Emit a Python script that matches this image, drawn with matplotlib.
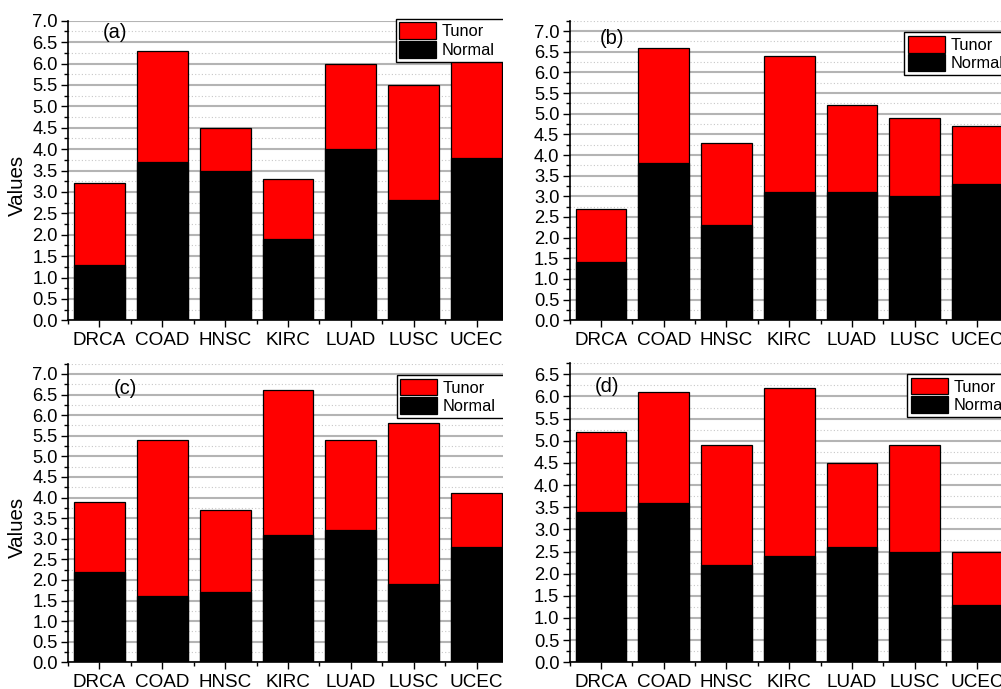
import matplotlib.pyplot as plt
from matplotlib.patches import Patch, Rectangle
import numpy as np

plt.rcParams['font.family'] = ['Liberation Sans', 'DejaVu Sans']

categories = ["DRCA", "COAD", "HNSC", "KIRC", "LUAD", "LUSC", "UCEC"]

# bar tops (red, "Tunor") and the black "Normal" part for each panel
tunor_a = [3.2, 6.3, 4.5, 3.3, 6.0, 5.5, 6.1]
normal_a = [1.3, 3.7, 3.5, 1.9, 4.0, 2.8, 3.8]
tunor_b = [2.7, 6.6, 4.3, 6.4, 5.2, 4.9, 4.7]
normal_b = [1.4, 3.8, 2.3, 3.1, 3.1, 3.0, 3.3]
tunor_c = [3.9, 5.4, 3.7, 6.6, 5.4, 5.8, 4.1]
normal_c = [2.2, 1.6, 1.7, 3.1, 3.2, 1.9, 2.8]
tunor_d = [5.2, 6.1, 4.9, 6.2, 4.5, 4.9, 2.5]
normal_d = [3.4, 3.6, 2.2, 2.4, 2.6, 2.5, 1.3]

W, H = 1001, 689
fig = plt.figure(figsize=(W / 100, H / 100), dpi=100)


def px_axes(left, top, right, bottom):
    return [left / W, 1 - bottom / H, (right - left) / W, (bottom - top) / H]


def draw_panel(rect, tunor, normal, ytop, label, label_xy, leg_xy, z):
    ax = fig.add_axes(px_axes(*rect), zorder=z)
    x = np.arange(len(categories))
    ax.bar(x, tunor, width=0.81, color="#ff0000", edgecolor="black", linewidth=0.9, zorder=3)
    ax.bar(x, normal, width=0.81, color="black", edgecolor="black", linewidth=0.9, zorder=3)
    ax.set_xlim(-0.5, 6.5)
    ax.set_ylim(0, ytop)
    ax.set_xticks(x)
    ax.set_xticklabels(categories, fontsize=13.6)
    ax.set_xticks(np.arange(-0.5, 7, 1), minor=True)
    ax.set_yticks(np.arange(0, ytop + 0.01, 0.5))
    ax.set_yticklabels([f"{v:.1f}" for v in np.arange(0, ytop + 0.01, 0.5)], fontsize=13.2)
    ax.set_yticks(np.arange(0, ytop + 0.01, 0.25), minor=True)
    ax.tick_params(axis="both", which="major", direction="out", length=5, width=1, pad=2.5)
    ax.tick_params(axis="both", which="minor", direction="out", length=3, width=1)
    ax.tick_params(axis="x", pad=3.2)
    ax.grid(axis="y", which="major", color="#b4b4b4", linewidth=1.5, zorder=0)
    ax.grid(axis="y", which="minor", color="#c8c8c8", linewidth=0.8, linestyle=(0, (1, 2)), zorder=0)
    ax.set_axisbelow(True)
    for s in ["top", "right"]:
        ax.spines[s].set_visible(False)
    for s in ["left", "bottom"]:
        ax.spines[s].set_linewidth(1.2)
    fig.text(label_xy[0] / W, 1 - label_xy[1] / H, label, fontsize=14.5, ha="center", va="center")
    handles = [Patch(facecolor="#ff0000", edgecolor="black", linewidth=0.9),
               Patch(facecolor="black", edgecolor="black", linewidth=0.9)]
    leg = ax.legend(handles, ["Tunor", "Normal"], loc="upper left", mode="expand",
                    bbox_to_anchor=(leg_xy[0] / W, 1 - leg_xy[1] / H, 115 / W, 0.0),
                    bbox_transform=fig.transFigure, fontsize=11.8, frameon=True,
                    fancybox=False, framealpha=1, edgecolor="black",
                    handlelength=2.25, handleheight=1.2, labelspacing=0.1,
                    handletextpad=0.35, borderpad=0.22, borderaxespad=0)
    leg.get_frame().set_linewidth(1.0)
    return ax


ax_a = draw_panel((68, 20.7, 508, 320.3), tunor_a, normal_a, 7.0, "(a)", (115, 33), (395.5, 18.8), 0)
ax_c = draw_panel((68, 363.6, 508, 662.3), tunor_c, normal_c, 7.25, "(c)", (125, 388), (396.7, 375), 0)

# the right column overlaps the left panels, which are cut at about x=503
fig.patches.append(Rectangle((503 / W, 0), 1, 1, transform=fig.transFigure,
                             facecolor="white", edgecolor="none", zorder=1))

ax_b = draw_panel((569.7, 20.7, 1008.7, 320.3), tunor_b, normal_b, 7.25, "(b)", (611.7, 38), (904.3, 32.3), 2)
ax_d = draw_panel((569.7, 363.2, 1008.7, 662.3), tunor_d, normal_d, 6.75, "(d)", (607, 387), (907.3, 374), 2)

fig.text(17 / W, 1 - 185 / H, "Values", rotation=90, fontsize=14.8, ha="center", va="center")
fig.text(17 / W, 1 - 527 / H, "Values", rotation=90, fontsize=14.8, ha="center", va="center")

fig.savefig("out.png", dpi=100)
